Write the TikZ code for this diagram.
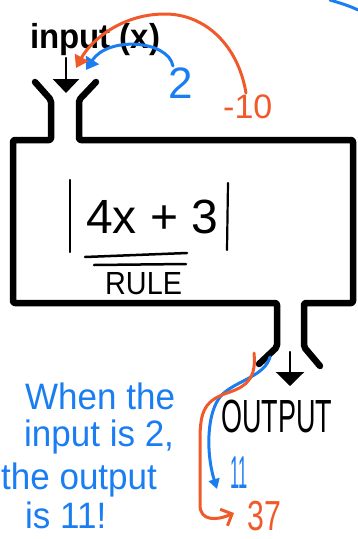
\documentclass[tikz,border=0pt]{standalone}
\usepackage{graphicx}
\usepackage{fontspec}
\setmainfont{Liberation Sans}
\usetikzlibrary{arrows.meta}
\definecolor{penblue}{RGB}{26,126,242}
\definecolor{penorange}{RGB}{240,90,42}
\newcommand{\hsz}[1]{\fontsize{#1}{#1}\selectfont}
\begin{document}
\begin{tikzpicture}[x=1pt,y=-1pt,
  wall/.style={line width=6.5pt, line join=round, line cap=round, rounded corners=2pt},
  pen/.style={line width=3pt, line cap=round, line join=round},
  ink/.style={line width=2.5pt, line cap=round},
  txt/.style={inner sep=0pt, anchor=base west}]
\useasboundingbox (0,0) rectangle (357,539);
\fill[white] (0,0) rectangle (357,539);

% machine walls
\draw[wall] (35,82) -- (51,100) -- (51,140) -- (13,140) -- (13,303) -- (277,303) -- (277,347) -- (259,364);
\draw[wall] (96,82) -- (79,100) -- (79,140) -- (353,140) -- (353,303) -- (304,303) -- (304,347) -- (320,366);

% input / output arrows
\coordinate (inTop) at (66,58);
\coordinate (inTip) at (66,93);
\draw[ink, -{Triangle[width=26pt,length=14pt]}] (inTop) -- (inTip);
\coordinate (outTop) at (290,352);
\coordinate (outTip) at (290,386);
\draw[ink, -{Triangle[width=28pt,length=14pt]}] (outTop) -- (outTip);

% labels
\node[txt, font=\hsz{33}\bfseries] (inlabel) at (30,48) {\scalebox{1}[1.05]{input (x)}};
\node[txt, font=\hsz{30}] (outlabel) at (221,432) {\scalebox{0.9}[1.55]{OUTPUT}};

% rule
\coordinate (barLa) at (70,180); \coordinate (barLb) at (70,252);
\coordinate (barRa) at (228,183); \coordinate (barRb) at (227,250);
\draw[line width=2.2pt, line cap=round] (barLa) -- (barLb);
\draw[line width=2.2pt, line cap=round] (barRa) -- (barRb);
\node[txt, font=\hsz{48}] (rule) at (86,233) {4x + 3};
\coordinate (u1a) at (85,257); \coordinate (u1b) at (187,253);
\coordinate (u2a) at (94,265); \coordinate (u2b) at (186,264);
\draw[ink] (u1a) -- (u1b);
\draw[ink] (u2a) -- (u2b);
\node[txt, font=\hsz{32}] (rulelbl) at (105,294) {\scalebox{0.9}[1]{RULE}};

% input examples
\node[txt, font=\hsz{44}, text=penblue] (two) at (168,98) {2};
\node[txt, font=\hsz{34}, text=penorange] (mten) at (223,118) {-10};
\coordinate (blueStart) at (173,66);
\coordinate (blueIn) at (86,70);
\draw[pen, penblue, -{Triangle[width=15pt,length=12pt]}] (blueStart) .. controls (168,40) and (108,36) .. (blueIn);
\coordinate (orStart) at (246,93);
\coordinate (orMid) at (165,14);
\coordinate (orIn) at (76,68);
\draw[pen, penorange, -{Triangle[width=15pt,length=12pt]}] (orStart) .. controls (238,45) and (205,14) .. (orMid) .. controls (120,14) and (90,42) .. (orIn);

% stray stroke top right
\coordinate (strayA) at (330,0);
\coordinate (strayB) at (358,10);
\draw[pen, penblue] (strayA) .. controls (340,3) and (350,6) .. (strayB);

% outputs
\node[txt, font=\hsz{46}, text=penblue] (eleven) at (230,488) {\scalebox{0.36}[1]{11}};
\node[txt, font=\hsz{42}, text=penorange] (thirty) at (247,530) {\scalebox{0.72}[1]{37}};
\coordinate (bStart) at (270,357);
\coordinate (bEnd) at (217,489);
\draw[pen, penblue, -{Triangle[width=11pt,length=10pt]}] (bStart) .. controls (265,375) and (240,380) .. (225,392) .. controls (207,405) and (205,450) .. (bEnd);
\coordinate (oStart) at (254,353);
\coordinate (oEnd) at (234,513);
\draw[pen, penorange, -{Straight Barb[width=18pt,length=9pt]}] (oStart) .. controls (256,375) and (250,385) .. (230,392) .. controls (205,400) and (200,410) .. (200,440) -- (200,505) .. controls (200,521) and (216,521) .. (oEnd);

% explanation
\node[txt, font=\hsz{35}, text=penblue] (w1) at (25,409) {\scalebox{1}[1.05]{When the}};
\node[txt, font=\hsz{35}, text=penblue] (w2) at (24,446) {\scalebox{1}[1.05]{input is 2,}};
\node[txt, font=\hsz{35}, text=penblue] (w3) at (1,489) {\scalebox{1}[1.05]{the output}};
\node[txt, font=\hsz{35}, text=penblue] (w4) at (25,528) {\scalebox{1}[1.05]{is 11!}};
\end{tikzpicture}
\end{document}
